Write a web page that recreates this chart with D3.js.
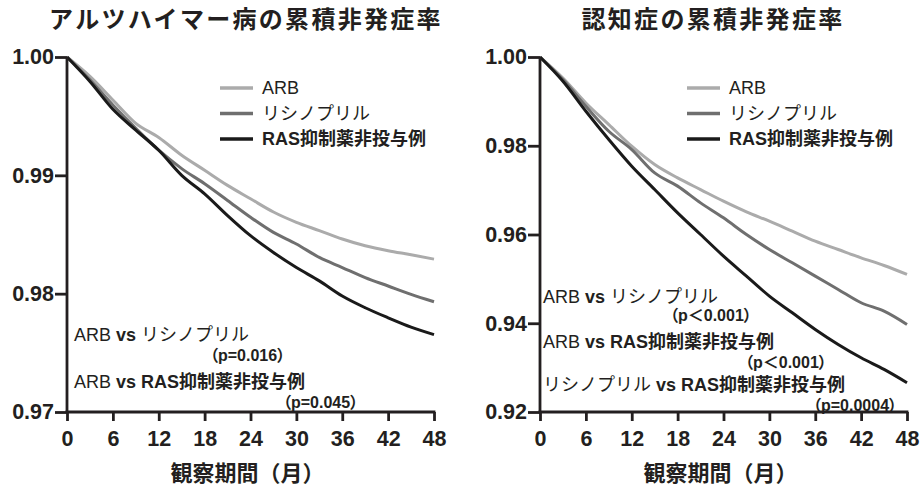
<!DOCTYPE html>
<html>
<head>
<meta charset="utf-8">
<script src="https://cdn.jsdelivr.net/npm/d3@7"></script>
<style>
  html, body { margin: 0; padding: 0; background: #fff; }
  svg text { font-family: "Liberation Sans", "Noto Sans CJK JP", sans-serif; fill: #231f20; white-space: pre; }
</style>
</head>
<body>
<div id="chart"></div>
<script>
// months on the x axis
const months = [0, 3, 6, 9, 12, 15, 18, 21, 24, 27, 30, 33, 36, 39, 42, 45, 48];
const xTicks = [0, 6, 12, 18, 24, 30, 36, 42, 48];

// Alzheimer's disease - cumulative non-onset rate
const alzArb = [1.0, 0.99836, 0.99637, 0.99439, 0.9932, 0.9917, 0.99043, 0.98915, 0.98802, 0.9869, 0.98603, 0.98533, 0.98462, 0.98405, 0.98363, 0.98329, 0.98292];
const alzLis = [1.0, 0.99807, 0.99595, 0.99397, 0.99212, 0.99057, 0.98929, 0.98788, 0.98646, 0.98518, 0.9842, 0.98306, 0.98221, 0.98136, 0.98065, 0.97994, 0.97932];
const alzNone = [1.0, 0.99793, 0.99558, 0.99382, 0.99212, 0.990, 0.98844, 0.9866, 0.9849, 0.98348, 0.98221, 0.98108, 0.9798, 0.97881, 0.97796, 0.97717, 0.97654];
const alzYTicks = [0.97, 0.98, 0.99, 1.0];

// dementia - cumulative non-onset rate
const demArb = [1.0, 0.99527, 0.98964, 0.98477, 0.97989, 0.97576, 0.97276, 0.97013, 0.9675, 0.9651, 0.963, 0.96075, 0.9585, 0.95662, 0.95475, 0.95302, 0.951];
const demLis = [1.0, 0.9949, 0.98889, 0.98327, 0.97914, 0.97388, 0.9709, 0.96713, 0.96375, 0.960, 0.95662, 0.95362, 0.95062, 0.94762, 0.94462, 0.94274, 0.93974];
const demNone = [1.0, 0.99452, 0.98777, 0.98139, 0.97538, 0.97013, 0.96488, 0.960, 0.95512, 0.95062, 0.94612, 0.94236, 0.93861, 0.93523, 0.93223, 0.9296, 0.9266];
const demYTicks = [0.92, 0.94, 0.96, 0.98, 1.0];

const seriesNames = ["ARB", "リシノプリル", "RAS抑制薬非投与例"];
const seriesColors = ["#ababab", "#6f6f6f", "#1a1a1a"];

const W = 922, H = 486;
const svg = d3.select("#chart").append("svg").attr("width", W).attr("height", H);

// each note: text segments [text, bold] or a p-value line
const charts = [
  {
    title: "アルツハイマー病の累積非発症率", titleX: 246,
    left: 67, right: 434, top: 57, bottom: 412,
    yDomain: [0.97, 1.0], yTicks: alzYTicks,
    data: [alzArb, alzLis, alzNone],
    legendX: 220,
    notes: [
      { y: 335, parts: [["ARB", false], [" vs ", true], ["リシノプリル", false]] },
      { y: 355, x: 210, p: "（p=0.016）" },
      { y: 382, parts: [["ARB", false], [" vs ", true], ["RAS抑制薬非投与例", true]] },
      { y: 402, x: 283, p: "（p=0.045）" }
    ],
    noteX: 74
  },
  {
    title: "認知症の累積非発症率", titleX: 713,
    left: 540, right: 907, top: 57, bottom: 412,
    yDomain: [0.92, 1.0], yTicks: demYTicks,
    data: [demArb, demLis, demNone],
    legendX: 687,
    notes: [
      { y: 297, parts: [["ARB", false], [" vs ", true], ["リシノプリル", false]] },
      { y: 315, x: 670, p: "（p＜0.001）" },
      { y: 342, parts: [["ARB", false], [" vs ", true], ["RAS抑制薬非投与例", true]] },
      { y: 362, x: 745, p: "（p＜0.001）" },
      { y: 385, parts: [["リシノプリル", false], [" vs ", true], ["RAS抑制薬非投与例", true]] },
      { y: 405, x: 813, p: "（p=0.0004）" }
    ],
    noteX: 543
  }
];

charts.forEach((c) => {
  const x = d3.scaleLinear().domain([0, 48]).range([c.left, c.right]);
  const y = d3.scaleLinear().domain(c.yDomain).range([c.bottom, c.top]);
  const g = svg.append("g");

  // title
  g.append("text")
    .attr("x", c.titleX)
    .attr("y", 19)
    .attr("text-anchor", "middle")
    .attr("dominant-baseline", "central")
    .style("font-size", "24px")
    .style("font-weight", "bold")
    .style("letter-spacing", "2.3px")
    .text(c.title);

  // curves
  const line = d3.line()
    .x((d, i) => x(months[i]))
    .y((d) => y(d))
    .curve(d3.curveMonotoneX);

  c.data.forEach((vals, i) => {
    g.append("path")
      .datum(vals)
      .attr("d", line)
      .attr("fill", "none")
      .attr("stroke", seriesColors[i])
      .attr("stroke-width", 3);
  });

  // y axis
  const yAxis = g.append("g")
    .attr("transform", `translate(${c.left},0)`)
    .call(d3.axisLeft(y).tickValues(c.yTicks).tickFormat(d3.format(".2f"))
      .tickSize(12).tickSizeOuter(0).tickPadding(1));
  // x axis
  const xAxis = g.append("g")
    .attr("transform", `translate(0,${c.bottom})`)
    .call(d3.axisBottom(x).tickValues(xTicks).tickFormat(d3.format("d"))
      .tickSize(9).tickSizeOuter(0).tickPadding(10));

  [yAxis, xAxis].forEach((a) => {
    a.selectAll(".domain, .tick line").attr("stroke", "#231f20").attr("stroke-width", 2.8);
    a.selectAll("text")
      .attr("fill", "#231f20")
      .style("font-size", "21.5px")
      .style("font-weight", "bold");
  });
  xAxis.select(".domain").attr("d", `M${c.left - 1.4},0H${c.right + 1.4}`);
  yAxis.select(".domain").attr("d", `M0,${c.top}V${c.bottom}`);

  // x axis title
  g.append("text")
    .attr("x", (c.left + c.right) / 2 - 3)
    .attr("y", 473)
    .attr("text-anchor", "middle")
    .attr("dominant-baseline", "central")
    .style("font-size", "22px")
    .style("font-weight", "bold")
    .text("観察期間（月）");

  // legend
  seriesNames.forEach((name, i) => {
    const ly = 88 + i * 25.5;
    g.append("line")
      .attr("x1", c.legendX).attr("x2", c.legendX + 33)
      .attr("y1", ly).attr("y2", ly)
      .attr("stroke", seriesColors[i])
      .attr("stroke-width", 3.5);
    g.append("text")
      .attr("x", c.legendX + 42)
      .attr("y", ly)
      .attr("dominant-baseline", "central")
      .style("font-size", "18px")
      .style("font-weight", i === 2 ? "bold" : "normal")
      .text(name);
  });

  // comparison notes
  c.notes.forEach((n) => {
    if (n.p) {
      g.append("text")
        .attr("x", n.x)
        .attr("y", n.y)
        .attr("dominant-baseline", "central")
        .style("font-size", "16px")
        .style("font-weight", "bold")
        .style("font-feature-settings", '"palt"')
        .text(n.p);
    } else {
      const t = g.append("text")
        .attr("x", c.noteX)
        .attr("y", n.y)
        .attr("dominant-baseline", "central")
        .style("font-size", "18px");
      n.parts.forEach(([txt, bold]) => {
        t.append("tspan").style("font-weight", bold ? "bold" : "normal").text(txt);
      });
    }
  });
});
</script>
</body>
</html>
